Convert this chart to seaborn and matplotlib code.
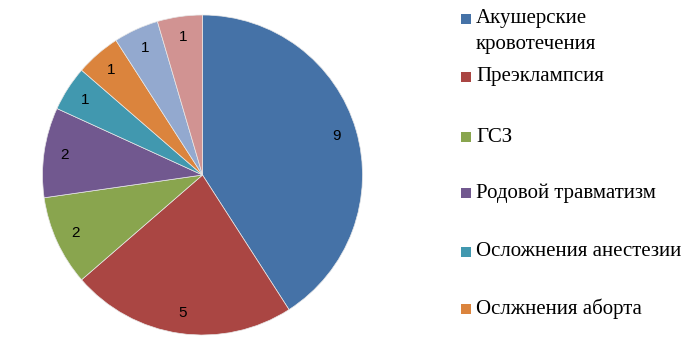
import matplotlib
matplotlib.use("Agg")
import matplotlib.pyplot as plt
import seaborn as sns
from matplotlib.patches import Rectangle

sns.set_theme(style="white")
plt.rcParams['font.family'] = ['DejaVu Sans']

categories = ["Акушерские\nкровотечения", "Преэклампсия", "ГСЗ", "Родовой травматизм",
              "Осложнения анестезии", "Ослжнения аборта", "Прочие 1", "Прочие 2"]
values = [9, 5, 2, 2, 1, 1, 1, 1]
legend_shown = 6
colors = ["#4572A7", "#AA4643", "#89A54E", "#71588F", "#4198AF", "#DB843D", "#93A9CF", "#D19392"]

W, H = 700, 352
fig = plt.figure(figsize=(W / 100, H / 100), dpi=100)
cx, cy, r = 202.5, 175, 160
ax = fig.add_axes([(cx - r) / W, (H - cy - r) / H, 2 * r / W, 2 * r / H])
wedges, texts = ax.pie(values, colors=colors, startangle=90, counterclock=False,
                       labels=[str(v) for v in values], labeldistance=0.87,
                       wedgeprops=dict(linewidth=0.5, edgecolor="#e8e8e8"),
                       textprops=dict(fontsize=11, color="black", ha="center", va="center",
                                      family="Liberation Sans"))
ax.set_xlim(-1, 1)
ax.set_ylim(-1, 1)
ax.set_aspect("equal")
ax.axis("off")

# Legend (truncated in the original: only first entries visible)
ys = [19, 77, 137, 193, 252, 309]
for i in range(legend_shown):
    y = ys[i]
    fig.patches.append(Rectangle((461 / W, 1 - (y + 5) / H), 10 / W, 10 / H,
                                 transform=fig.transFigure, facecolor=colors[i],
                                 edgecolor="none"))
    lines = categories[i].split("\n")
    for j, line in enumerate(lines):
        fig.text(476 / W, 1 - (y + j * 25) / H, line, ha="left", va="center",
                 fontsize=15, family="Liberation Serif", color="black")

fig.savefig("out.png", dpi=100, facecolor="white")
